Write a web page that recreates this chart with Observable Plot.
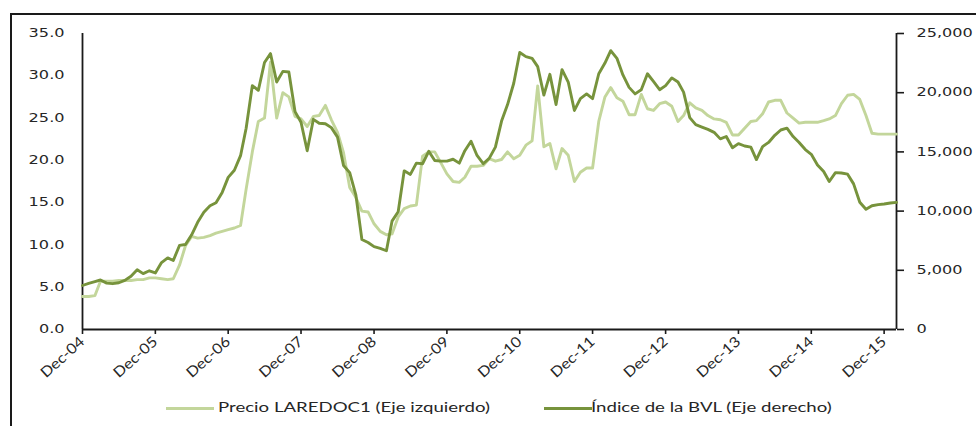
<!DOCTYPE html>
<html><head><meta charset="utf-8">
<script src="https://cdn.jsdelivr.net/npm/d3@7"></script>
<script src="https://cdn.jsdelivr.net/npm/@observablehq/plot@0.6"></script>
<style>
body{margin:0;background:#fff;width:976px;height:426px;overflow:hidden;position:relative;font-family:"DejaVu Sans",sans-serif;}
#frame{position:absolute;left:10px;top:13px;width:990px;height:440px;border-left:2px solid #1a1a1a;border-top:2px solid #1a1a1a;}
#chart{position:absolute;left:0;top:0;}
.leg{position:absolute;top:400px;height:16px;font-family:Lato,"Liberation Sans",sans-serif;font-size:13.3px;color:#262626;white-space:nowrap;}
.leg .sw{position:absolute;top:7px;width:48px;height:3px;}
.leg .tx{position:absolute;top:-1px;transform:scaleX(1.4);transform-origin:left center;}
</style></head>
<body>
<div id="chart"></div>
<div id="frame"></div>
<div class="leg" style="left:166px"><div class="sw" style="left:0;background:#C3D69B"></div><div class="tx" style="left:52px">Precio LAREDOC1 (Eje izquierdo)</div></div>
<div class="leg" style="left:544px"><div class="sw" style="left:0;background:#77933C"></div><div class="tx" style="left:47px">Índice de la BVL (Eje derecho)</div></div>
<script>
// Monthly series, Dec-04 .. Feb-16
const laredoc = [
3.9,3.9,4.0,5.7,5.7,5.7,5.8,5.8,5.8,5.9,
5.9,6.1,6.1,6.0,5.9,6.0,7.6,9.9,11.0,10.8,
10.9,11.1,11.4,11.6,11.8,12.0,12.3,16.6,21.0,24.6,
25.0,31.6,25.0,28.0,27.5,25.2,24.9,24.0,25.2,25.3,
26.5,24.8,23.3,20.9,16.8,15.6,14.0,13.9,12.5,11.6,
11.2,11.3,13.3,14.3,14.6,14.7,20.5,21.0,21.0,19.7,
18.4,17.5,17.4,18.0,19.3,19.3,19.4,20.2,19.9,20.1,
21.0,20.2,20.6,21.8,22.3,28.8,21.6,22.0,19.0,21.4,
20.6,17.5,18.6,19.1,19.1,24.6,27.5,28.6,27.4,27.0,
25.4,25.4,27.8,26.1,25.9,26.7,26.9,26.4,24.6,25.3,
26.8,26.2,25.9,25.3,24.9,24.8,24.5,23.0,23.0,23.8,
24.6,24.7,25.5,26.9,27.1,27.1,25.6,25.0,24.4,24.5,
24.5,24.5,24.7,24.9,25.3,26.7,27.7,27.8,27.2,25.3,
23.2,23.1,23.1,23.1,23.1
];
const bvl = [
3716,3900,4050,4180,3920,3870,3950,4150,4500,5050,
4720,4960,4780,5650,6050,5830,7100,7180,8000,9050,
9900,10450,10700,11580,12850,13450,14680,17000,20600,20200,
22550,23300,20900,21800,21750,18400,17500,15100,17750,17420,
17380,17050,16250,13850,13250,11350,7600,7350,7000,6850,
6650,9150,9950,13400,13100,14050,14000,15050,14270,14220,
14220,14380,14050,15100,15900,14700,14000,14450,15400,17600,
19000,20800,23400,23050,22900,22200,19800,21550,19000,21950,
20900,18500,19500,19900,19500,21600,22500,23550,22900,21500,
20450,19900,20250,21600,20950,20250,20600,21250,20900,20050,
17900,17300,17100,16900,16650,16100,16300,15350,15700,15500,
15400,14350,15450,15800,16400,16850,17000,16300,15800,15200,
14800,13900,13350,12500,13250,13220,13120,12300,10750,10150,
10450,10550,10600,10680,10740
];
const xTickLabels = ["Dec-04","Dec-05","Dec-06","Dec-07","Dec-08","Dec-09","Dec-10","Dec-11","Dec-12","Dec-13","Dec-14","Dec-15"];
const yLeftTicks = [0,5,10,15,20,25,30,35];
const yRightTicks = [0,5000,10000,15000,20000,25000];

const leftMax = 35, rightMax = 25000, k = leftMax / rightMax;
const dates = laredoc.map((_, i) => new Date(Date.UTC(2004, 11 + i, 1)));
const data = dates.map((date, i) => ({date, laredoc: laredoc[i], bvl: bvl[i]}));
const xStart = dates[0], xEnd = dates[dates.length - 1];
const tickDates = xTickLabels.map((_, j) => new Date(Date.UTC(2004 + j, 11, 1)));
const fmtR = d3.format(",");

const chart = Plot.plot({
  width: 976, height: 392,
  marginLeft: 82, marginRight: 80, marginTop: 33, marginBottom: 63,
  style: {fontFamily: "DejaVu Sans", fontSize: "11.5px", color: "#262626", background: "transparent"},
  x: {type: "utc", domain: [xStart, xEnd]},
  y: {domain: [0, leftMax]},
  marks: [
    Plot.axisY({ticks: yLeftTicks, tickSize: 0, tickPadding: 18, tickFormat: d => d.toFixed(1), label: null}),
    Plot.axisY({anchor: "right", ticks: yRightTicks.map(v => v * k), tickSize: 7, tickPadding: 13, strokeWidth: 1.6, stroke: "#1a1a1a",
      tickFormat: d => fmtR(Math.round(d / k)), label: null}),
    Plot.axisX({ticks: tickDates, tickFormat: d => xTickLabels[d.getUTCFullYear() - 2004], tickRotate: -42,
      tickSize: 5, tickPadding: 5, strokeWidth: 1.6, stroke: "#1a1a1a", label: null}),
    Plot.ruleY([0], {stroke: "#1a1a1a", strokeWidth: 1.8}),
    Plot.ruleX([xStart, xEnd], {y1: 0, y2: leftMax, stroke: "#1a1a1a", strokeWidth: 1.8}),
    Plot.line(data, {x: "date", y: "laredoc", stroke: "#C3D69B", strokeWidth: 2.9}),
    Plot.line(data, {x: "date", y: d => d.bvl * k, stroke: "#77933C", strokeWidth: 2.9})
  ]
});
document.getElementById("chart").appendChild(chart);

// horizontally widen the tick labels to match the reference's wide lettering
chart.querySelectorAll('g[aria-label="y-axis tick label"] text').forEach(t => {
  const len = t.getComputedTextLength();
  t.setAttribute("textLength", (len * 1.4).toFixed(1));
  t.setAttribute("lengthAdjust", "spacingAndGlyphs");
});
chart.querySelectorAll('g[aria-label="x-axis tick label"] text').forEach(t => {
  t.style.fontFamily = "Lato, 'Liberation Sans', sans-serif";
  t.style.fontSize = "14.5px";
  const len = t.getComputedTextLength();
  t.setAttribute("textLength", (len * 1.12).toFixed(1));
  t.setAttribute("lengthAdjust", "spacingAndGlyphs");
});
</script>
</body></html>
